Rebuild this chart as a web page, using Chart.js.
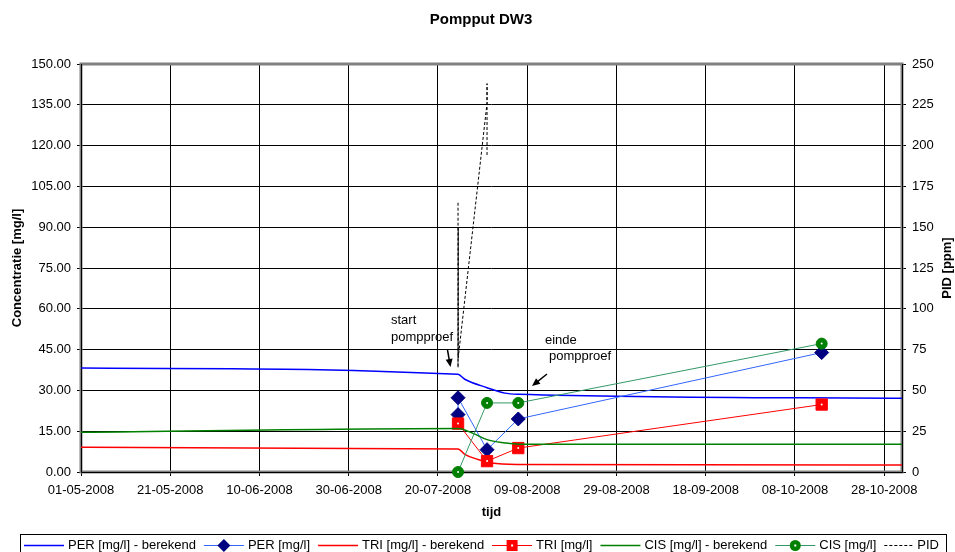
<!DOCTYPE html>
<html>
<head>
<meta charset="utf-8">
<script src="https://cdn.jsdelivr.net/npm/chart.js@4.4.1/dist/chart.umd.min.js"></script>
<style>
html, body { margin: 0; padding: 0; background: #fff; }
</style>
</head>
<body>
<canvas id="myChart" width="955" height="552"></canvas>
<script>
// x axis: days counted from 01-05-2008
var xStart = '01-05-2008';
var xEnd = '01-11-2008';
var xTickLabels = ['01-05-2008', '21-05-2008', '10-06-2008', '30-06-2008', '20-07-2008',
    '09-08-2008', '29-08-2008', '18-09-2008', '08-10-2008', '28-10-2008'];
var concTicks = [0, 15, 30, 45, 60, 75, 90, 105, 120, 135, 150];
var pidTicks = [0, 25, 50, 75, 100, 125, 150, 175, 200, 225, 250];

// berekend (calculated) curves
var perCalcDates = ['01-05-2008', '24-07-2008 12:00', '26-07-2008', '31-07-2008', '04-08-2008', '07-08-2008', '01-11-2008'];
var perCalcValues = [38.2, 35.9, 34.1, 31.0, 29.0, 28.6, 27.1];
var triCalcDates = ['01-05-2008', '24-07-2008 12:00', '26-07-2008', '29-07-2008', '01-08-2008', '07-08-2008', '01-11-2008'];
var triCalcValues = [9.1, 8.5, 6.5, 4.6, 3.3, 2.8, 2.6];
var cisCalcDates = ['01-05-2008', '24-07-2008 12:00', '28-07-2008', '31-07-2008', '04-08-2008', '07-08-2008', '01-11-2008'];
var cisCalcValues = [14.6, 16.0, 14.1, 11.9, 10.7, 10.2, 10.2];

// measured samples
var perDates = ['24-07-2008 12:00', '24-07-2008 12:00', '31-07-2008', '07-08-2008', '14-10-2008'];
var perValues = [21.1, 27.3, 8.2, 19.5, 43.9];
var sampleDates = ['24-07-2008 12:00', '31-07-2008', '07-08-2008', '14-10-2008'];
var triValues = [17.8, 4.0, 8.8, 24.8];
var cisValues = [0.0, 25.4, 25.4, 47.2];

// PID readings (right axis)
var pidDates = ['24-07-2008 12:00', '24-07-2008 12:00', '24-07-2008 13:00', '24-07-2008 13:00', '31-07-2008', '31-07-2008', '31-07-2008'];
var pidValues = [165, 64, 150, 70, 226, 238, 193];

function dayNumber(s) {
    var parts = s.split(' ');
    var p = parts[0].split('-');
    var hours = 0;
    if (parts[1]) {
        var t = parts[1].split(':');
        hours = +t[0] + (+t[1]) / 60;
    }
    return (Date.UTC(+p[2], +p[1] - 1, +p[0]) - Date.UTC(2008, 4, 1)) / 86400000 + hours / 24;
}

function points(dates, values) {
    return values.map(function (v, i) { return { x: dayNumber(dates[i]), y: v }; });
}

var FONT = 'Arial, "Liberation Sans", sans-serif';

var decor = {
    id: 'decor',
    beforeDatasetsDraw: function (chart) {
        var ctx = chart.ctx, a = chart.chartArea;
        ctx.save();
        ctx.strokeStyle = '#808080';
        ctx.lineWidth = 3;
        ctx.strokeRect(a.left, a.top, a.right - a.left, a.bottom - a.top);
        ctx.strokeStyle = '#000';
        ctx.lineWidth = 1;
        ctx.beginPath();
        ctx.moveTo(a.left + 0.5, a.top);
        ctx.lineTo(a.left + 0.5, a.bottom + 0.5);
        ctx.lineTo(a.right + 0.5, a.bottom + 0.5);
        ctx.lineTo(a.right + 0.5, a.top);
        ctx.stroke();
        ctx.restore();
    },
    afterDatasetsDraw: function (chart) {
        var ctx = chart.ctx;
        ctx.save();
        ctx.fillStyle = '#fff';
        [3, 5].forEach(function (di) {
            chart.getDatasetMeta(di).data.forEach(function (el) {
                ctx.beginPath();
                ctx.arc(el.x, el.y, 1, 0, Math.PI * 2);
                ctx.fill();
            });
        });
        ctx.restore();
    },
    afterDraw: function (chart) {
        var ctx = chart.ctx, a = chart.chartArea;
        var midY = (a.top + a.bottom) / 2;
        ctx.save();
        ctx.fillStyle = '#000';

        // titles
        ctx.font = 'bold 15px ' + FONT;
        ctx.textAlign = 'center';
        ctx.textBaseline = 'alphabetic';
        ctx.fillText('Pompput DW3', 481, 24);

        ctx.font = 'bold 13px ' + FONT;
        ctx.textBaseline = 'middle';
        ctx.fillText('tijd', (a.left + a.right) / 2, 512);
        ctx.save();
        ctx.translate(17, midY);
        ctx.rotate(-Math.PI / 2);
        ctx.fillText('Concentratie [mg/l]', 0, 0);
        ctx.restore();
        ctx.save();
        ctx.translate(947, midY);
        ctx.rotate(-Math.PI / 2);
        ctx.fillText('PID [ppm]', 0, 0);
        ctx.restore();

        // annotations
        ctx.font = '13px ' + FONT;
        ctx.textAlign = 'left';
        ctx.fillText('start', 391, 320);
        ctx.fillText('pompproef', 391, 337);
        ctx.fillText('einde', 545, 340);
        ctx.fillText('pompproef', 549, 356);
        arrow(ctx, 447.5, 350, 450.5, 367);
        arrow(ctx, 547, 374, 532, 386);

        // legend
        ctx.strokeStyle = '#000';
        ctx.lineWidth = 1;
        ctx.strokeRect(20.5, 534.5, 926, 30);
        var items = [
            { text: 'PER [mg/l] - berekend', color: '#0000ff', width: 1.5 },
            { text: 'PER [mg/l]', color: '#3366ff', width: 1, marker: 'diamond', mcolor: '#000080' },
            { text: 'TRI [mg/l] - berekend', color: '#ff0000', width: 1.5 },
            { text: 'TRI [mg/l]', color: '#ff0000', width: 1, marker: 'square', mcolor: '#ff0000' },
            { text: 'CIS [mg/l] - berekend', color: '#008000', width: 1.5 },
            { text: 'CIS [mg/l]', color: '#339966', width: 1, marker: 'circle', mcolor: '#008000' },
            { text: 'PID', color: '#000', width: 1, dash: [3, 2], len: 29 }
        ];
        var x = 24, y = 545.5;
        items.forEach(function (it) {
            var len = it.len || 40;
            ctx.save();
            ctx.strokeStyle = it.color;
            ctx.lineWidth = it.width;
            if (it.dash) ctx.setLineDash(it.dash);
            ctx.beginPath();
            ctx.moveTo(x, y);
            ctx.lineTo(x + len, y);
            ctx.stroke();
            ctx.restore();
            var cx = x + len / 2;
            ctx.fillStyle = it.mcolor;
            if (it.marker === 'diamond') {
                ctx.beginPath();
                ctx.moveTo(cx, y - 6.5); ctx.lineTo(cx + 6.5, y); ctx.lineTo(cx, y + 6.5); ctx.lineTo(cx - 6.5, y);
                ctx.closePath();
                ctx.fill();
            } else if (it.marker === 'square') {
                ctx.fillRect(cx - 5.5, y - 5.5, 11, 11);
                ctx.fillStyle = '#fff';
                ctx.fillRect(cx - 1, y - 1, 2, 2);
            } else if (it.marker === 'circle') {
                ctx.beginPath();
                ctx.arc(cx, y, 5.5, 0, Math.PI * 2);
                ctx.fill();
                ctx.fillStyle = '#fff';
                ctx.fillRect(cx - 1, y - 1, 2, 2);
            }
            ctx.fillStyle = '#000';
            ctx.fillText(it.text, x + len + 4, y);
            x += len + 4 + ctx.measureText(it.text).width + 8;
        });
        ctx.restore();
    }
};

function arrow(ctx, x1, y1, x2, y2) {
    var ang = Math.atan2(y2 - y1, x2 - x1);
    ctx.save();
    ctx.strokeStyle = '#000';
    ctx.fillStyle = '#000';
    ctx.lineWidth = 1.5;
    ctx.beginPath();
    ctx.moveTo(x1, y1);
    ctx.lineTo(x2 - 5 * Math.cos(ang), y2 - 5 * Math.sin(ang));
    ctx.stroke();
    ctx.beginPath();
    ctx.moveTo(x2, y2);
    ctx.lineTo(x2 - 8 * Math.cos(ang) + 3.5 * Math.sin(ang), y2 - 8 * Math.sin(ang) - 3.5 * Math.cos(ang));
    ctx.lineTo(x2 - 8 * Math.cos(ang) - 3.5 * Math.sin(ang), y2 - 8 * Math.sin(ang) + 3.5 * Math.cos(ang));
    ctx.closePath();
    ctx.fill();
    ctx.restore();
}

function createChart() {
    var ctx = document.getElementById('myChart');
    new Chart(ctx, {
        type: 'line',
        data: {
            datasets: [{
                label: 'PER [mg/l] - berekend',
                data: points(perCalcDates, perCalcValues),
                borderColor: '#0000ff', borderWidth: 1.5, pointRadius: 0,
                cubicInterpolationMode: 'monotone', order: 7
            }, {
                label: 'PER [mg/l]',
                data: points(perDates, perValues),
                borderColor: '#3366ff', borderWidth: 1, tension: 0,
                pointStyle: 'rectRot', pointRadius: 7,
                pointBackgroundColor: '#000080', pointBorderColor: '#000080', pointBorderWidth: 1, order: 6
            }, {
                label: 'TRI [mg/l] - berekend',
                data: points(triCalcDates, triCalcValues),
                borderColor: '#ff0000', borderWidth: 1.5, pointRadius: 0,
                cubicInterpolationMode: 'monotone', order: 5
            }, {
                label: 'TRI [mg/l]',
                data: points(sampleDates, triValues),
                borderColor: '#ff0000', borderWidth: 1, tension: 0,
                pointStyle: 'rect', pointRadius: 8,
                pointBackgroundColor: '#ff0000', pointBorderColor: '#ff0000', pointBorderWidth: 1, order: 4
            }, {
                label: 'CIS [mg/l] - berekend',
                data: points(cisCalcDates, cisCalcValues),
                borderColor: '#008000', borderWidth: 1.5, pointRadius: 0,
                cubicInterpolationMode: 'monotone', order: 3
            }, {
                label: 'CIS [mg/l]',
                data: points(sampleDates, cisValues),
                borderColor: '#339966', borderWidth: 1, tension: 0,
                pointStyle: 'circle', pointRadius: 5.5,
                pointBackgroundColor: '#008000', pointBorderColor: '#008000', pointBorderWidth: 1, order: 2
            }, {
                label: 'PID',
                data: points(pidDates, pidValues),
                yAxisID: 'y2',
                borderColor: '#000', borderWidth: 1, borderDash: [3, 2], tension: 0,
                pointRadius: 0, order: 1
            }]
        },
        options: {
            responsive: false,
            animation: false,
            events: [],
            clip: false,
            layout: { padding: { top: 64, left: 0, right: 0, bottom: 0 } },
            plugins: { legend: { display: false }, title: { display: false }, tooltip: { enabled: false } },
            scales: {
                x: {
                    type: 'linear',
                    min: dayNumber(xStart),
                    max: dayNumber(xEnd),
                    afterBuildTicks: function (s) { s.ticks = xTickLabels.map(function (l) { return { value: dayNumber(l) }; }); },
                    afterFit: function (s) { s.height = 80; },
                    ticks: {
                        autoSkip: false, maxRotation: 0, padding: 7, color: '#000',
                        font: { family: FONT, size: 13 },
                        callback: function (v, i) { return xTickLabels[i]; }
                    },
                    grid: { color: '#000', lineWidth: 1, tickLength: 4 },
                    border: { display: false }
                },
                y: {
                    position: 'left',
                    min: 0, max: 150,
                    afterBuildTicks: function (s) { s.ticks = concTicks.map(function (v) { return { value: v }; }); },
                    afterFit: function (s) { s.width = 81; },
                    ticks: {
                        padding: 6, color: '#000', font: { family: FONT, size: 13 },
                        callback: function (v) { return v.toFixed(2); }
                    },
                    grid: { color: '#000', lineWidth: 1, tickLength: 4 },
                    border: { display: false }
                },
                y2: {
                    position: 'right',
                    min: 0, max: 250,
                    afterBuildTicks: function (s) { s.ticks = pidTicks.map(function (v) { return { value: v }; }); },
                    afterFit: function (s) { s.width = 53; },
                    ticks: { padding: 6, color: '#000', font: { family: FONT, size: 13 } },
                    grid: { color: '#000', lineWidth: 1, tickLength: 4, drawOnChartArea: false },
                    border: { display: false }
                }
            }
        },
        plugins: [decor]
    });
}

createChart();
</script>
</body>
</html>
